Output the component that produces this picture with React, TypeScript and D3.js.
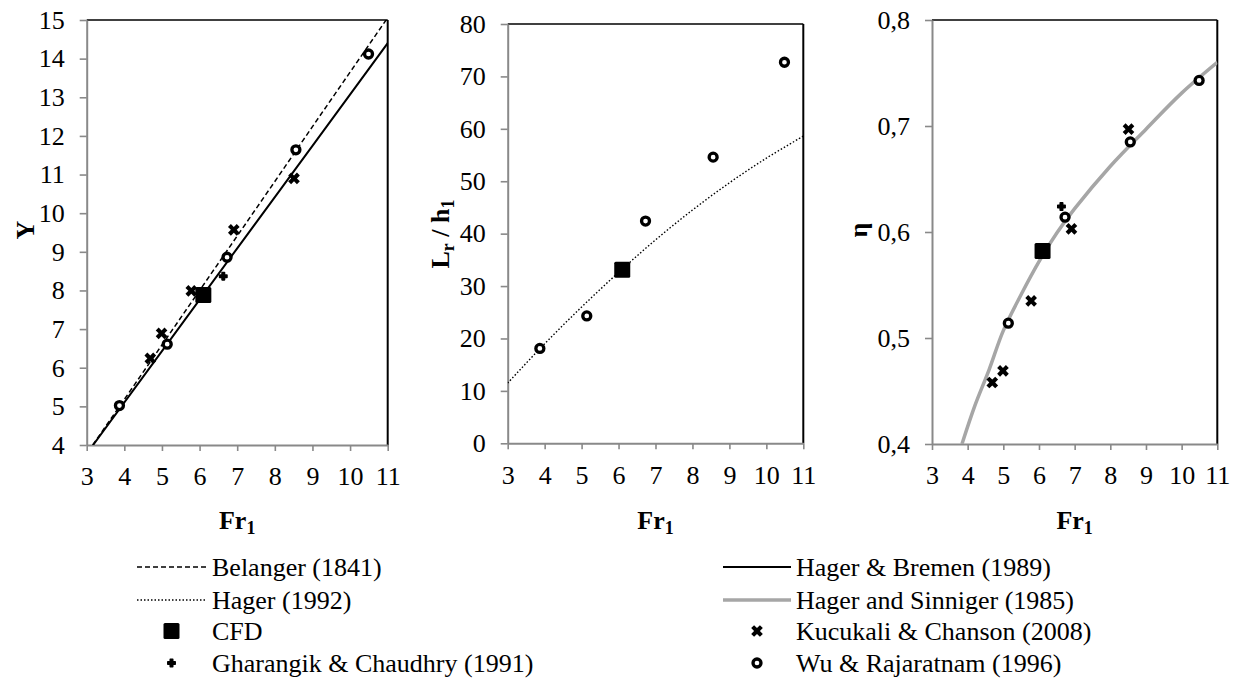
import { useEffect, useRef } from 'react';
import * as d3 from 'd3';

const W = 1238;
const H = 679;
const FONT = "'Liberation Serif', Tinos, 'Times New Roman', Times, 'DejaVu Serif', serif";
const AXIS_GREY = '#898989';

// Belanger (1841) – Y against Fr1
const belangerFr = [3.16, 4, 5, 6, 7, 8, 9, 10, 11];
const belangerY = [4.0, 5.18, 6.59, 8.0, 9.41, 10.82, 12.24, 13.65, 15.06];

// Hager & Bremen (1989)
const bremenFr = [3.17, 5, 7, 9, 11];
const bremenY = [4.0, 6.43, 9.09, 11.74, 14.4];

// Hager (1992) – Lr/h1
const hagerFr = [3, 4, 5, 6, 7, 8, 9, 10, 11];
const hagerLr = [11.5, 19.0, 26.0, 32.6, 38.8, 44.5, 49.7, 54.4, 58.6];

// Hager and Sinniger (1985) – eta
const sinnigerFr = [3.84, 4.2, 4.6, 5.0, 5.5, 6.0, 6.5, 7.0, 8.0, 9.0, 10.0, 11.0];
const sinnigerEta = [0.4, 0.436, 0.47, 0.507, 0.541, 0.572, 0.599, 0.622, 0.662, 0.697, 0.731, 0.76];

// CFD
const cfdFr = [6.1];
const cfdY = [7.88];
const cfdLr = [33.1];
const cfdEta = [0.582];

// Kucukali & Chanson (2008)
const kucukaliFr = [4.69, 4.99, 5.78, 6.91, 8.51];
const kucukaliY = [6.24, 6.89, 7.99, 9.57, 10.9];
const kucukaliEta = [0.458, 0.469, 0.535, 0.603, 0.697];

// Gharangik & Chaudhry (1991)
const gharangikFr = [6.63];
const gharangikY = [8.37];
const gharangikEta = [0.624];

// Wu & Rajaratnam (1996)
const wuFr = [3.87, 5.14, 6.73, 8.56, 10.49];
const wuY = [5.02, 6.61, 8.86, 11.64, 14.12];
const wuLr = [18.1, 24.3, 42.4, 54.6, 72.7];
const wuEta = [null, 0.514, 0.614, 0.685, 0.743];

const xTicks = [3, 4, 5, 6, 7, 8, 9, 10, 11];
const yTicksY = [4, 5, 6, 7, 8, 9, 10, 11, 12, 13, 14, 15];
const yTicksLr = [0, 10, 20, 30, 40, 50, 60, 70, 80];
const yTicksEta = [0.4, 0.5, 0.6, 0.7, 0.8];

type Pt = [number, number];
const zip = (xs: number[], ys: (number | null)[]): Pt[] =>
  xs.map((x, i) => [x, ys[i]] as [number, number | null]).filter(d => d[1] !== null) as Pt[];

type LineDef = { pts: Pt[]; kind: 'dash' | 'solid' | 'dot' | 'grey'; curve?: boolean };
type MarkDef = { pts: Pt[]; kind: 'cfd' | 'kuc' | 'gha' | 'wu' };

interface PanelDef {
  id: string;
  box: { left: number; right: number; top: number; bottom: number };
  yDomain: [number, number];
  yTicks: number[];
  yFormat: (v: number) => string;
  lines: LineDef[];
  marks: MarkDef[];
  yLabel: { x: number; y: number; parts: [string, boolean][] };
}

const panels: PanelDef[] = [
  {
    id: 'p1',
    box: { left: 86.7, right: 387.7, top: 20, bottom: 445 },
    yDomain: [4, 15],
    yTicks: yTicksY,
    yFormat: v => String(v),
    lines: [
      { pts: zip(belangerFr, belangerY), kind: 'dash' },
      { pts: zip(bremenFr, bremenY), kind: 'solid' },
    ],
    marks: [
      { pts: zip(kucukaliFr, kucukaliY), kind: 'kuc' },
      { pts: zip(gharangikFr, gharangikY), kind: 'gha' },
      { pts: zip(wuFr, wuY), kind: 'wu' },
      { pts: zip(cfdFr, cfdY), kind: 'cfd' },
    ],
    yLabel: { x: 25, y: 230, parts: [['Y', false]] },
  },
  {
    id: 'p2',
    box: { left: 507.7, right: 803.3, top: 24, bottom: 443.3 },
    yDomain: [0, 80],
    yTicks: yTicksLr,
    yFormat: v => String(v),
    lines: [{ pts: zip(hagerFr, hagerLr), kind: 'dot', curve: true }],
    marks: [
      { pts: zip(wuFr, wuLr), kind: 'wu' },
      { pts: zip(cfdFr, cfdLr), kind: 'cfd' },
    ],
    yLabel: { x: 440, y: 234, parts: [['L', false], ['r', true], [' / h', false], ['1', true]] },
  },
  {
    id: 'p3',
    box: { left: 932, right: 1217.3, top: 20, bottom: 444 },
    yDomain: [0.4, 0.8],
    yTicks: yTicksEta,
    yFormat: v => v.toFixed(1).replace('.', ','),
    lines: [{ pts: zip(sinnigerFr, sinnigerEta), kind: 'grey', curve: true }],
    marks: [
      { pts: zip(kucukaliFr, kucukaliEta), kind: 'kuc' },
      { pts: zip(gharangikFr, gharangikEta), kind: 'gha' },
      { pts: zip(wuFr, wuEta), kind: 'wu' },
      { pts: zip(cfdFr, cfdEta), kind: 'cfd' },
    ],
    yLabel: { x: 858, y: 230, parts: [['η', false]] },
  },
];

const lineStyle = (sel: any, kind: LineDef['kind']) => {
  sel.attr('fill', 'none');
  if (kind === 'dash') sel.attr('stroke', '#000').attr('stroke-width', 1.5).attr('stroke-dasharray', '5,3');
  if (kind === 'solid') sel.attr('stroke', '#000').attr('stroke-width', 2);
  if (kind === 'dot') sel.attr('stroke', '#000').attr('stroke-width', 1.4).attr('stroke-dasharray', '1.5,2');
  if (kind === 'grey') sel.attr('stroke', '#a6a6a6').attr('stroke-width', 3.5);
};

const drawMark = (g: any, kind: MarkDef['kind'], x: number, y: number) => {
  if (kind === 'cfd') {
    g.append('rect')
      .attr('x', x - 8).attr('y', y - 8).attr('width', 16).attr('height', 16)
      .attr('rx', 1.5).attr('fill', '#000');
  } else if (kind === 'kuc') {
    g.append('path')
      .attr('d', d3.symbol(d3.symbolCross, 85)())
      .attr('transform', `translate(${x},${y}) rotate(45)`)
      .attr('fill', '#000');
  } else if (kind === 'gha') {
    g.append('path')
      .attr('d', d3.symbol(d3.symbolCross, 30)())
      .attr('transform', `translate(${x},${y})`)
      .attr('fill', '#000').attr('stroke', '#000').attr('stroke-width', 1.6)
      .attr('stroke-linejoin', 'round');
  } else {
    g.append('circle')
      .attr('cx', x).attr('cy', y).attr('r', 4)
      .attr('fill', '#fff').attr('stroke', '#000').attr('stroke-width', 3.3);
  }
};

const legendLeft = [
  { label: 'Belanger (1841)', line: 'dash' },
  { label: 'Hager (1992)', line: 'dot' },
  { label: 'CFD', mark: 'cfd' },
  { label: 'Gharangik & Chaudhry (1991)', mark: 'gha' },
];
const legendRight = [
  { label: 'Hager & Bremen (1989)', line: 'solid' },
  { label: 'Hager and Sinniger (1985)', line: 'grey' },
  { label: 'Kucukali & Chanson (2008)', mark: 'kuc' },
  { label: 'Wu & Rajaratnam (1996)', mark: 'wu' },
];

export default function App() {
  const svgRef = useRef<SVGSVGElement>(null);

  useEffect(() => {
    if (!svgRef.current) return;
    const svg = d3.select(svgRef.current);
    svg.selectAll('*').remove();

    svg.append('rect').attr('width', W).attr('height', H).attr('fill', '#fff');

    panels.forEach(p => {
      const { left, right, top, bottom } = p.box;
      const x = d3.scaleLinear().domain([3, 11]).range([left, right]);
      const y = d3.scaleLinear().domain(p.yDomain).range([bottom, top]);

      svg.append('clipPath').attr('id', `clip-${p.id}`)
        .append('rect').attr('x', left).attr('y', top)
        .attr('width', right - left).attr('height', bottom - top);

      // plot area border (top / right)
      svg.append('line').attr('x1', left).attr('x2', right).attr('y1', top).attr('y2', top)
        .attr('stroke', '#000').attr('stroke-width', 1.4);
      svg.append('line').attr('x1', right).attr('x2', right).attr('y1', top).attr('y2', bottom)
        .attr('stroke', '#000').attr('stroke-width', 2);

      // axes
      const yAxis = d3.axisLeft(y).tickValues(p.yTicks).tickFormat(p.yFormat as any)
        .tickSize(7).tickSizeOuter(0).tickPadding(15);
      svg.append('g').attr('transform', `translate(${left},0)`).call(yAxis)
        .call(g => g.select('.domain').attr('stroke', AXIS_GREY).attr('stroke-width', 2))
        .call(g => g.selectAll('.tick line').attr('stroke', AXIS_GREY).attr('stroke-width', 1.6))
        .call(g => g.selectAll('.tick text').attr('fill', '#000')
          .style('font-family', FONT).style('font-size', '26px'));

      const xAxis = d3.axisBottom(x).tickValues(xTicks).tickSize(6).tickSizeOuter(0).tickPadding(16);
      svg.append('g').attr('transform', `translate(0,${bottom})`).call(xAxis)
        .call(g => g.select('.domain').attr('stroke', AXIS_GREY).attr('stroke-width', 2))
        .call(g => g.selectAll('.tick line').attr('stroke', AXIS_GREY).attr('stroke-width', 1.6))
        .call(g => g.selectAll('.tick text').attr('fill', '#000')
          .style('font-family', FONT).style('font-size', '26px'));

      // curves
      const plot = svg.append('g').attr('clip-path', `url(#clip-${p.id})`);
      p.lines.forEach(l => {
        const gen = d3.line<Pt>().x(d => x(d[0])).y(d => y(d[1]))
          .curve(l.curve ? d3.curveCatmullRom : d3.curveLinear);
        plot.append('path').attr('d', gen(l.pts)).call(lineStyle, l.kind);
      });

      // markers
      const mg = svg.append('g');
      p.marks.forEach(m => m.pts.forEach(d => drawMark(mg, m.kind, x(d[0]), y(d[1]))));

      // x title
      const xt = svg.append('text')
        .attr('x', (left + right) / 2).attr('y', 529)
        .attr('text-anchor', 'middle')
        .style('font-family', FONT).style('font-size', '26px').style('font-weight', 'bold');
      xt.append('tspan').text('Fr');
      xt.append('tspan').attr('dy', 5).style('font-size', '18px').text('1');

      // y title
      const yt = svg.append('text')
        .attr('transform', `translate(${p.yLabel.x},${p.yLabel.y}) rotate(-90)`)
        .attr('text-anchor', 'middle').attr('dy', '0.35em')
        .style('font-family', FONT).style('font-size', '26px').style('font-weight', 'bold');
      let shifted = false;
      p.yLabel.parts.forEach(([t, sub]) => {
        const ts = yt.append('tspan').text(t);
        if (sub && !shifted) { ts.attr('dy', 5).style('font-size', '18px'); shifted = true; }
        else if (!sub && shifted) { ts.attr('dy', -5); shifted = false; }
        else if (sub) ts.style('font-size', '18px');
      });
    });

    // legend
    const rowY = [567, 600, 631, 663];
    const drawLegend = (items: any[], x0: number, x1: number, tx: number) => {
      items.forEach((it, i) => {
        const cy = rowY[i];
        if (it.line) {
          svg.append('line').attr('x1', x0).attr('x2', x1).attr('y1', cy).attr('y2', cy)
            .call(lineStyle, it.line);
        } else {
          drawMark(svg, it.mark, (x0 + x1) / 2, cy);
        }
        svg.append('text').attr('x', tx).attr('y', cy).attr('dy', '0.33em')
          .attr('fill', '#000')
          .style('font-family', FONT).style('font-size', '26px')
          .text(it.label);
      });
    };
    drawLegend(legendLeft, 137, 206, 212);
    drawLegend(legendRight, 723, 791, 796);
  }, []);

  return (
    <svg
      ref={svgRef}
      width={W}
      height={H}
      style={{ position: 'absolute', left: 0, top: 0, background: '#fff', fontFamily: FONT }}
    />
  );
}
